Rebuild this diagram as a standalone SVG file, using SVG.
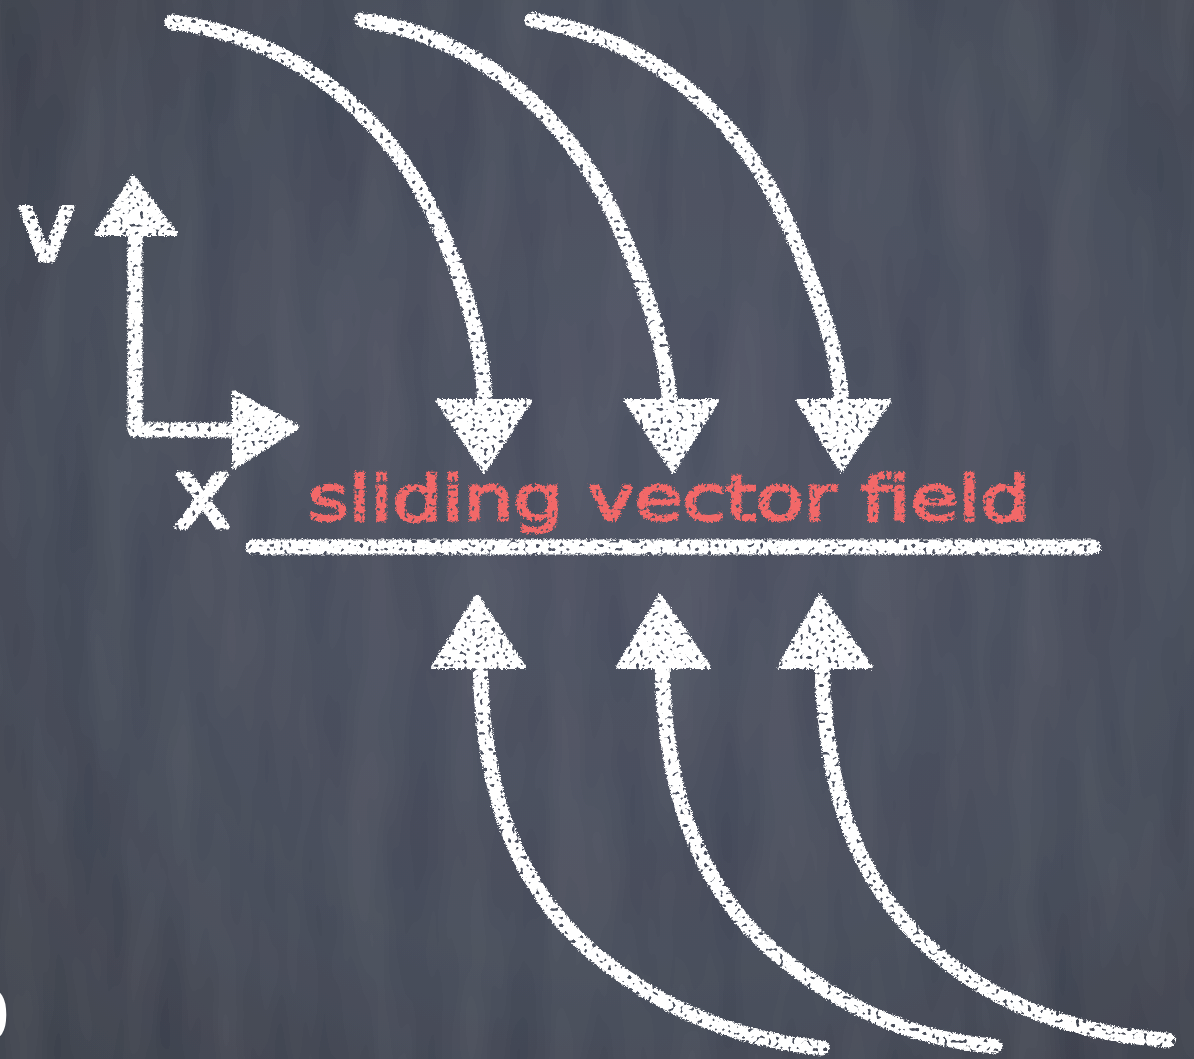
<svg xmlns="http://www.w3.org/2000/svg" width="1194" height="1059" viewBox="0 0 1194 1059">
  <defs>
    <radialGradient id="bg" cx="0.55" cy="0.45" r="0.75">
      <stop offset="0" stop-color="#4a5061"/>
      <stop offset="0.6" stop-color="#434958"/>
      <stop offset="1" stop-color="#383d49"/>
    </radialGradient>
    <filter id="texture" x="0" y="0" width="100%" height="100%">
      <feTurbulence type="fractalNoise" baseFrequency="0.02 0.004" numOctaves="3" seed="4" result="n"/>
      <feColorMatrix in="n" type="matrix" values="0 0 0 0 1  0 0 0 0 1  0 0 0 0 1  0 0 0 0.04 0" result="w"/>
      <feComposite in="w" in2="SourceGraphic" operator="in" result="wc"/>
      <feMerge><feMergeNode in="SourceGraphic"/><feMergeNode in="wc"/></feMerge>
    </filter>
    <filter id="chalk" x="-10%" y="-10%" width="120%" height="120%">
      <feTurbulence type="fractalNoise" baseFrequency="0.6" numOctaves="2" seed="2" result="n"/>
      <feDisplacementMap in="SourceGraphic" in2="n" scale="5" xChannelSelector="R" yChannelSelector="G" result="d"/>
      <feTurbulence type="fractalNoise" baseFrequency="0.25" numOctaves="1" seed="7" result="s"/>
      <feColorMatrix in="s" type="matrix" values="0 0 0 0 0  0 0 0 0 0  0 0 0 0 0  0 0 0 -14 9.6" result="holes"/>
      <feComposite in="d" in2="holes" operator="in"/>
    </filter>
    <style>
      .chalk { fill: none; stroke: #ffffff; stroke-width: 15; stroke-linecap: round; stroke-linejoin: round; }
      .head { fill: #ffffff; stroke: #ffffff; stroke-width: 4; stroke-linejoin: round; }
      .lbl { fill: #ffffff; stroke: #ffffff; stroke-width: 5; stroke-linejoin: round; font-family: "DejaVu Sans", "Liberation Sans", sans-serif; }
      .red { fill: #f26868; stroke: #f26868; stroke-width: 2.5; font-family: "DejaVu Sans", "Liberation Sans", sans-serif; }
    </style>
  </defs>

  <rect width="1194" height="1059" fill="url(#bg)" filter="url(#texture)"/>

  <g id="axes" filter="url(#chalk)">
    <path class="chalk" d="M135 232 L135 430 L236 430"/>
    <polygon class="head" points="133,177 176,234 96,234"/>
    <polygon class="head" points="298,427 234,392 234,467"/>
  </g>
  <g id="label-v"><text class="lbl" x="18" y="260" font-size="96" filter="url(#chalk)">v</text></g>
  <g id="label-x"><text class="lbl" x="174" y="527" font-size="96" filter="url(#chalk)">x</text></g>

  <g id="connectors" filter="url(#chalk)">
    <path class="chalk" d="M172 22 C310 40 400 130 445 240 C470 300 483 350 485 405"/>
    <path class="chalk" d="M362 20 C495 40 580 130 625 240 C650 300 666 350 670 405"/>
    <path class="chalk" d="M532 20 C665 40 750 130 795 240 C820 300 838 350 842 405"/>
    <polygon class="head" points="438,401 530,401 484,471"/>
    <polygon class="head" points="626,401 717,401 673,471"/>
    <polygon class="head" points="798,401 889,401 841,470"/>

    <path class="chalk" d="M480 662 C482 780 510 880 590 950 C660 1010 740 1040 822 1048"/>
    <path class="chalk" d="M662 662 C664 780 692 880 772 950 C842 1010 915 1040 995 1046"/>
    <path class="chalk" d="M822 662 C824 780 852 880 932 950 C1002 1010 1085 1035 1168 1040"/>
    <polygon class="head" points="477,596 524,667 433,667"/>
    <polygon class="head" points="660,596 709,667 618,667"/>
    <polygon class="head" points="820,596 871,667 779,667"/>

    <path class="chalk" d="M253 547 L1093 547" stroke-width="10"/>
  </g>

  <g id="title">
    <text class="red" x="308" y="520" font-size="62" textLength="722" lengthAdjust="spacingAndGlyphs" filter="url(#chalk)">sliding vector field</text>
  </g>

  <g id="page-num">
    <text x="9" y="1040" font-size="72" text-anchor="end" fill="#ffffff" font-family="Liberation Sans, sans-serif">0</text>
  </g>
</svg>
